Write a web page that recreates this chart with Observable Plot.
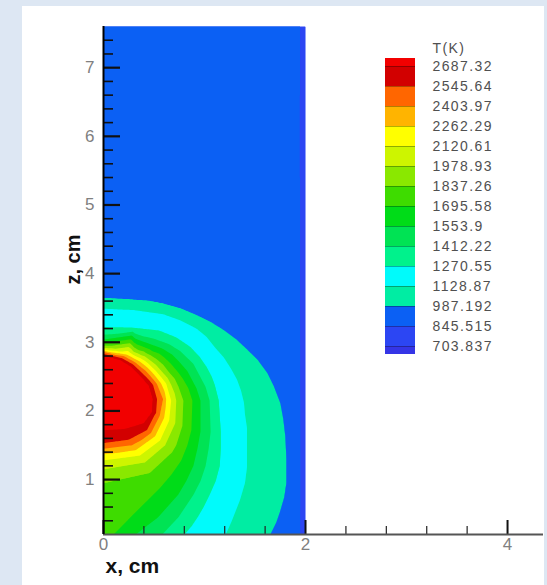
<!DOCTYPE html>
<html><head><meta charset="utf-8">
<script src="https://cdn.jsdelivr.net/npm/d3@7"></script>
<script src="https://cdn.jsdelivr.net/npm/@observablehq/plot@0.6"></script>
<style>
html,body{margin:0;padding:0;background:#dde7f3;}
#wrap{position:relative;width:547px;height:585px;overflow:hidden;}
#panel{position:absolute;left:22px;top:6px;width:522px;height:579px;background:#fff;}
#main{position:absolute;left:0;top:0;}
#legend{position:absolute;left:385px;top:28px;}
#legend text{letter-spacing:1.4px;}
</style></head><body>
<div id="wrap"><div id="panel"></div><div id="main"></div><div id="legend"></div></div>
<script>
// contour levels (K), bottom to top
const levels = [703.837, 845.515, 987.192, 1128.87, 1270.55, 1412.22, 1553.9, 1695.58, 1837.26, 1978.93, 2120.61, 2262.29, 2403.97, 2545.64, 2687.32];
const levelLabels = ["703.837","845.515","987.192","1128.87","1270.55","1412.22","1553.9","1695.58","1837.26","1978.93","2120.61","2262.29","2403.97","2545.64","2687.32"];
// 16 band colours: below first level ... above last level
const bandColors = ["#3535e6","#2c46f3","#0b60f4","#00eda3","#00fbfb","#00f28c","#00e354","#00dc18","#3edc00","#8ae800","#cdf500","#ffff00","#ffb400","#ff6600","#d20000","#f20000"];

// isotherm samples: [x cm, z cm]
const isoTemps = [988, 1129, 1271, 1413, 1554, 1696, 1838, 1979, 2121, 2263, 2405, 2546, 2688];
const iso987 = [[0,3.64],[0.26,3.62],[0.45,3.6],[0.59,3.56],[0.76,3.49],[0.92,3.39],[1.06,3.29],[1.19,3.17],[1.31,3.04],[1.42,2.89],[1.53,2.73],[1.62,2.55],[1.69,2.34],[1.75,2.11],[1.78,1.87],[1.80,1.62],[1.81,1.3],[1.81,0.95],[1.79,0.75],[1.75,0.55],[1.71,0.38],[1.65,0.2]];
const iso1128 = [[0,3.49],[0.3,3.47],[0.59,3.41],[0.76,3.32],[0.92,3.2],[1.02,3.08],[1.1,2.93],[1.19,2.78],[1.26,2.62],[1.32,2.46],[1.36,2.3],[1.39,2.12],[1.4,1.95],[1.42,1.75],[1.42,1.55],[1.42,1.18],[1.4,0.95],[1.35,0.7],[1.31,0.55],[1.27,0.4],[1.21,0.2]];
const iso1270 = [[0,3.22],[0.3,3.21],[0.55,3.17],[0.72,3.07],[0.86,2.93],[0.95,2.79],[1.02,2.64],[1.07,2.5],[1.1,2.38],[1.14,2.15],[1.16,1.7],[1.16,1.45],[1.15,1.2],[1.11,0.98],[1.05,0.78],[0.99,0.6],[0.93,0.45],[0.87,0.32],[0.8,0.2]];
const iso1412 = [[0,3.11],[0.5,3.05],[0.65,2.97],[0.76,2.87],[0.92,2.6],[1.01,2.35],[1.05,2.15],[1.06,1.7],[1.04,1.45],[1.01,1.2],[0.96,0.98],[0.89,0.78],[0.74,0.45],[0.58,0.2]];
const iso1554 = [[0,3.04],[0.45,2.98],[0.58,2.91],[0.68,2.82],[0.83,2.58],[0.92,2.33],[0.96,2.15],[0.96,1.7],[0.93,1.45],[0.89,1.2],[0.82,0.98],[0.74,0.78],[0.54,0.45],[0.32,0.2]];
const iso1696 = [[0,2.99],[0.4,2.93],[0.6,2.78],[0.74,2.56],[0.84,2.33],[0.88,2.15],[0.87,1.72],[0.83,1.5],[0.77,1.28],[0.67,1.07],[0.56,0.88],[0.3,0.5],[0.1,0.2]];
const iso1837 = [[0,2.95],[0.34,2.89],[0.52,2.76],[0.65,2.56],[0.74,2.36],[0.79,2.15],[0.78,1.78],[0.68,1.4],[0.46,1.1],[0,0.95]];
const iso1979 = [[0,2.92],[0.3,2.86],[0.46,2.74],[0.58,2.57],[0.67,2.38],[0.72,2.15],[0.71,1.82],[0.61,1.5],[0.41,1.25],[0,1.15]];
const iso2121 = [[0,2.90],[0.27,2.84],[0.41,2.73],[0.52,2.58],[0.62,2.4],[0.67,2.15],[0.65,1.86],[0.56,1.57],[0.36,1.35],[0,1.28]];
const iso2262 = [[0,2.88],[0.23,2.82],[0.36,2.72],[0.47,2.58],[0.57,2.4],[0.62,2.17],[0.6,1.9],[0.51,1.63],[0.32,1.43],[0,1.37]];
const iso2404 = [[0,2.86],[0.2,2.8],[0.32,2.7],[0.42,2.58],[0.53,2.39],[0.59,2.17],[0.56,1.95],[0.47,1.68],[0.28,1.5],[0,1.45]];
const iso2545 = [[0,2.83],[0.18,2.77],[0.29,2.68],[0.37,2.57],[0.49,2.38],[0.53,2.17],[0.51,1.95],[0.43,1.72],[0.25,1.58],[0,1.53]];
const iso2687 = [[0,2.81],[0.17,2.74],[0.27,2.65],[0.34,2.55],[0.45,2.37],[0.49,2.17],[0.48,1.98],[0.40,1.82],[0.22,1.74],[0,1.72]];
const isotherms = [iso987, iso1128, iso1270, iso1412, iso1554, iso1696, iso1837, iso1979, iso2121, iso2262, iso2404, iso2545, iso2687];

// hot core
const coreT = 2780;
const corePts = [[0.05,2.5],[0.2,2.45],[0.3,2.2],[0.05,2.15],[0.2,1.95],[0.1,1.85]];
// cold far field (blue)
const farT = 920;
const farPts = [[0,4.2],[0.5,4.0],[1.0,3.9],[1.45,3.5],[1.72,3.0],[1.8,2.6],[0,5.6],[0.9,5.6],[1.6,4.6],[0,7.6],[0.9,7.6],[1.5,7.6],[1.8,0.2]];
// bottom of symmetry axis
const axisBottomT = 1745;
const axisBottomPts = [[0,0.2]];
// wall on the right of the domain
const wallZ = [0.2,0.6,1.0,1.4,1.8,2.2,2.6,3.0,3.4,3.8,4.2,4.6,5.0,5.4,5.8,6.2,6.6,7.0,7.4,7.6];
const wallInnerX = 1.95, wallInnerT = 845;
const wallOuterX = 2.0, wallOuterT = 780;

// ticks
const xMajor = [0, 2, 4];
const xMinor = [0.4, 0.8, 1.2, 1.6, 2.4, 2.8, 3.2, 3.6];
const zMajor = [1, 2, 3, 4, 5, 6, 7];
const zMinor = [0.4,0.6,0.8,1.2,1.4,1.6,1.8,2.2,2.4,2.6,2.8,3.2,3.4,3.6,3.8,4.2,4.4,4.6,4.8,5.2,5.4,5.6,5.8,6.2,6.4,6.6,6.8,7.2,7.4];

const samples = [];
isotherms.forEach((pts, k) => pts.forEach(([x, z]) => samples.push({x, z, T: isoTemps[k]})));
corePts.forEach(([x, z]) => samples.push({x, z, T: coreT}));
farPts.forEach(([x, z]) => samples.push({x, z, T: farT}));
axisBottomPts.forEach(([x, z]) => samples.push({x, z, T: axisBottomT}));
wallZ.forEach(z => { samples.push({x: wallInnerX, z, T: wallInnerT}); samples.push({x: wallOuterX, z, T: wallOuterT}); });

const colorScale = {type: "threshold", domain: levels, range: bandColors};
const font = "'Liberation Sans', Arial, Helvetica, sans-serif";

const main = Plot.plot({
  width: 547, height: 585,
  marginLeft: 103, marginRight: 4, marginTop: 26, marginBottom: 51,
  style: {background: "transparent", fontFamily: font, overflow: "visible"},
  x: {domain: [0, 4.356], axis: null},
  y: {domain: [0.2, 7.6], axis: null},
  color: colorScale,
  marks: [
    Plot.contour(samples, {x: "x", y: "z", fill: "T", thresholds: levels, interpolate: "barycentric",
      x1: 0, x2: 2, y1: 0.2, y2: 7.6, pixelSize: 1, stroke: "none"}),
    Plot.ruleX(xMinor, {x: d => d, insetTop: 500, stroke: "#222", strokeWidth: 1.2}),
    Plot.ruleX(xMajor, {x: d => d, insetTop: 494, stroke: "#111", strokeWidth: 2}),
    Plot.ruleY(zMinor, {y: d => d, insetRight: 430, stroke: "#111", strokeWidth: 1.6}),
    Plot.ruleY(zMajor, {y: d => d, insetRight: 423, stroke: "#111", strokeWidth: 2.2}),
    Plot.ruleY([0.2], {stroke: "#555", strokeWidth: 2}),
    Plot.ruleX([0], {stroke: "#000", strokeWidth: 2}),
    Plot.text(xMajor, {x: d => d, frameAnchor: "bottom", dy: 15, text: d => String(d), fill: "#808080", fontSize: 17}),
    Plot.text(zMajor, {y: d => d, frameAnchor: "left", dx: -9, textAnchor: "end", text: d => String(d), fill: "#808080", fontSize: 17}),
    Plot.text(["x, cm"], {frameAnchor: "bottom-left", dx: 2, dy: 38, textAnchor: "start", text: d => d, fontWeight: "bold", fontSize: 21, fill: "#111"}),
    Plot.text(["z, cm"], {frameAnchor: "left", dx: -30, dy: 4, rotate: -90, text: d => d, fontWeight: "bold", fontSize: 20, fill: "#111"})
  ]
});
document.getElementById("main").appendChild(main);

const legend = Plot.plot({
  width: 160, height: 336,
  marginTop: 30, marginBottom: 10, marginLeft: 0, marginRight: 130,
  style: {background: "transparent", fontFamily: font, overflow: "visible"},
  y: {domain: [-0.4, 14.4], axis: null},
  color: colorScale,
  marks: [
    Plot.rect(bandColors, {y1: (d, i) => Math.max(i - 1, -0.4), y2: (d, i) => Math.min(i, 14.4),
      fill: (d, i) => i === 0 ? levels[0] - 1 : levels[i - 1]}),
    Plot.ruleY(levels, {y: (d, i) => i, stroke: "#000", strokeOpacity: 0.3}),
    Plot.text(levelLabels, {y: (d, i) => i, frameAnchor: "right", dx: 17, textAnchor: "start", text: d => d, fill: "#505050", fontSize: 14}),
    Plot.text(["T(K)"], {frameAnchor: "top-right", dx: 17, dy: -15, textAnchor: "start", text: d => d, fill: "#505050", fontSize: 14})
  ]
});
document.getElementById("legend").appendChild(legend);
</script></body></html>
